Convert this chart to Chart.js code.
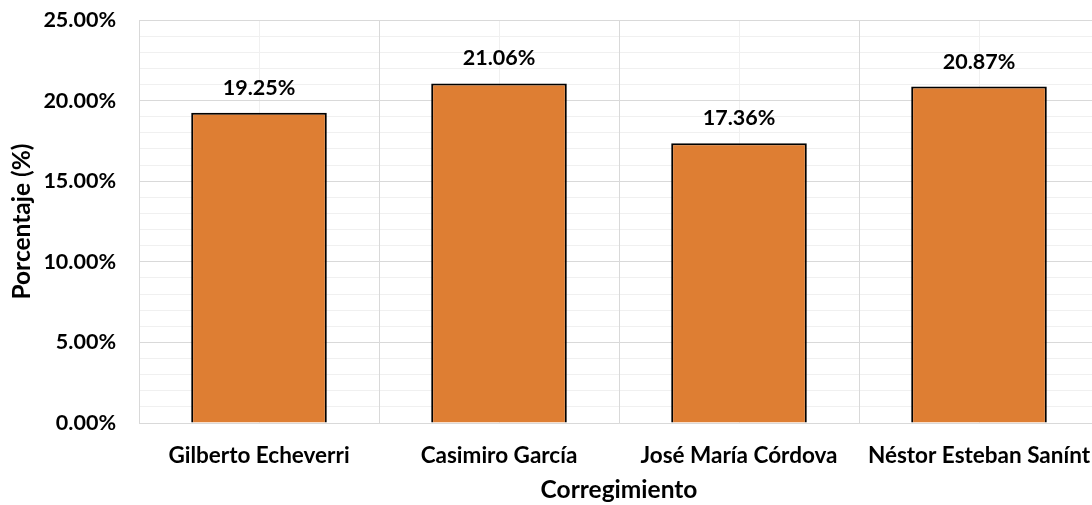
<!DOCTYPE html>
<html>
<head>
<meta charset="utf-8">
<script src="https://cdn.jsdelivr.net/npm/chart.js@4/dist/chart.umd.min.js"></script>
<style>
html,body{margin:0;padding:0;overflow:hidden;background:#fff;}
#wrap{position:relative;width:1100px;height:505px;}
</style>
</head>
<body>
<div id="wrap"><canvas id="c" width="1100" height="505"></canvas></div>
<script>
const categories = ["Gilberto Echeverri", "Casimiro García", "José María Córdova", "Néstor Esteban Sanínt"];
const values = [19.25, 21.06, 17.36, 20.87];
const yTicks = [0, 5, 10, 15, 20, 25];
const xTitle = "Corregimiento";
const yTitle = "Porcentaje (%)";

const FONT = "Lato, 'Open Sans', sans-serif";

function noPad(s) { s.paddingTop = 0; s.paddingBottom = 0; s.paddingLeft = 0; s.paddingRight = 0; }

const labelPlugin = {
  id: 'barLabels',
  afterDatasetsDraw(chart) {
    const ctx = chart.ctx;
    const meta = chart.getDatasetMeta(0);
    ctx.save();
    ctx.font = "bold 21.5px " + FONT;
    ctx.fillStyle = "#000";
    ctx.textAlign = "center";
    ctx.textBaseline = "middle";
    meta.data.forEach((bar, i) => {
      ctx.fillText(values[i].toFixed(2) + "%", bar.x, bar.y - 25);
    });
    ctx.restore();
  }
};

new Chart(document.getElementById('c'), {
  type: 'bar',
  data: {
    labels: categories,
    datasets: [{
      data: values,
      backgroundColor: '#DE7E33',
      borderColor: '#000',
      borderWidth: 2,
      barPercentage: 0.565,
      categoryPercentage: 1
    }]
  },
  options: {
    responsive: false,
    animation: false,
    events: [],
    layout: { padding: { left: 7, right: 1, top: 20, bottom: 0 } },
    plugins: { legend: { display: false }, tooltip: { enabled: false } },
    scales: {
      x: {
        position: 'bottom',
        offset: true,
        grid: { offset: true, color: '#d9d9d9', lineWidth: 1, drawTicks: false, z: -1 },
        border: { color: '#d9d9d9', width: 1 },
        ticks: { color: '#000', font: { family: FONT, size: 22.5, weight: 'bold' }, padding: 19, maxRotation: 0, autoSkip: false },
        title: { display: true, text: xTitle, color: '#000', font: { family: FONT, size: 24.5, weight: 'bold' }, padding: 0 },
        afterFit(s) { s.height = 82; noPad(s); }
      },
      x2: {
        position: 'top',
        offset: true,
        grid: { offset: false, color: '#f0f0f0', lineWidth: 1, drawTicks: false, z: -2 },
        border: { display: false },
        ticks: { display: false },
        afterFit(s) { s.height = 0; noPad(s); }
      },
      y: {
        position: 'left',
        min: 0, max: 25,
        afterBuildTicks(s) { s.ticks = yTicks.map(v => ({ value: v })); },
        grid: { color: '#d9d9d9', lineWidth: 1, drawTicks: false, z: -1 },
        border: { color: '#d9d9d9', width: 1 },
        ticks: { color: '#000', font: { family: FONT, size: 21.5, weight: 'bold' }, padding: 23,
                 callback: v => Number(v).toFixed(2) + '%' },
        title: { display: true, text: yTitle, color: '#000', font: { family: FONT, size: 24.5, weight: 'bold' }, padding: 0 },
        afterFit(s) { s.width = 132; noPad(s); }
      },
      y2: {
        position: 'right',
        min: 0, max: 25,
        ticks: { display: false, stepSize: 1 },
        grid: { color: ctx => (ctx.tick && ctx.tick.value % 5 === 0) ? 'rgba(0,0,0,0)' : '#f0f0f0', drawTicks: false, z: -2 },
        border: { display: false },
        afterFit(s) { s.width = 0; noPad(s); }
      }
    }
  },
  plugins: [labelPlugin]
});
</script>
</body>
</html>
